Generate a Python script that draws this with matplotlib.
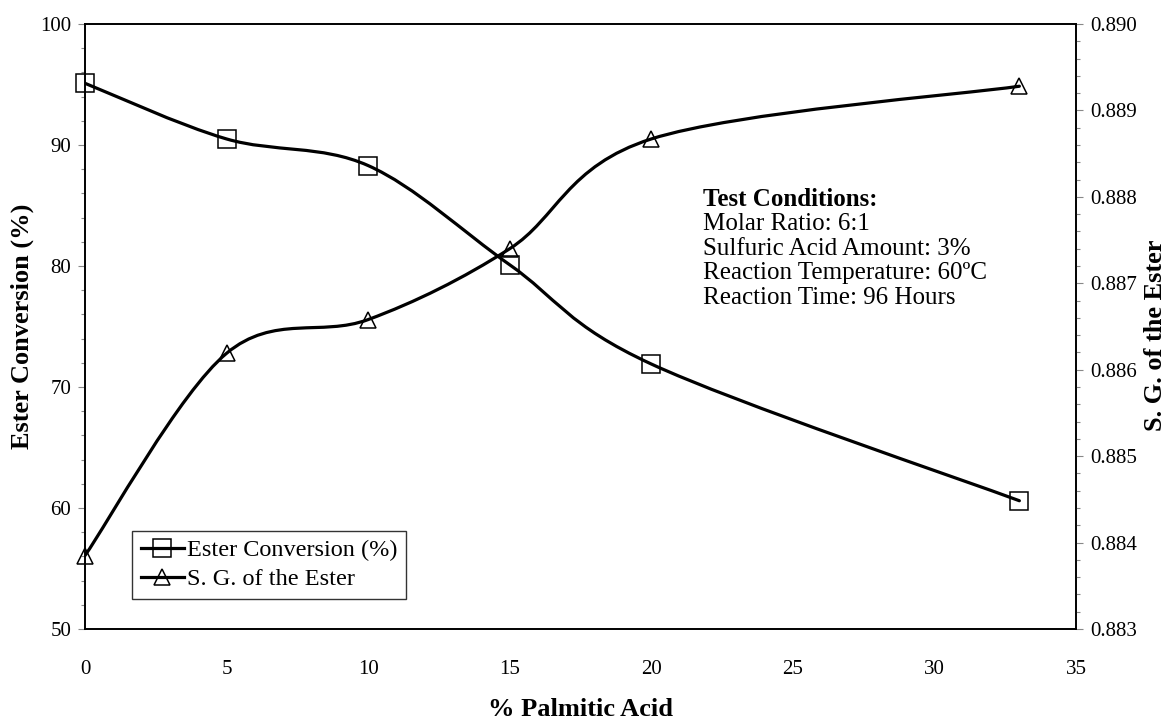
import matplotlib
matplotlib.use("Agg")
import matplotlib.pyplot as plt
from matplotlib.path import Path
from matplotlib.patches import PathPatch
from matplotlib.ticker import MultipleLocator, FormatStrFormatter
import numpy as np

plt.rcParams['font.family'] = ['Liberation Serif', 'DejaVu Serif']

palmitic = [0, 5, 10, 15, 20, 33]
ester_conversion = [95.1, 90.5, 88.3, 80.1, 71.9, 60.6]
specific_gravity = [0.88385, 0.88619, 0.88658, 0.88740, 0.88867, 0.88928]

conditions_title = "Test Conditions:"
conditions = ["Molar Ratio: 6:1",
              "Sulfuric Acid Amount: 3%",
              "Reaction Temperature: 60\u00baC",
              "Reaction Time: 96 Hours"]


def smooth_path(xs, ys):
    """Catmull-Rom style cubic Bezier through the points."""
    pts = np.column_stack([xs, ys]).astype(float)
    ext = np.vstack([pts[0], pts, pts[-1]])
    verts = [tuple(pts[0])]
    codes = [Path.MOVETO]
    for i in range(len(pts) - 1):
        p0, p1, p2, p3 = ext[i], ext[i + 1], ext[i + 2], ext[i + 3]
        c1 = p1 + (p2 - p0) / 6.0
        c2 = p2 - (p3 - p1) / 6.0
        verts += [tuple(c1), tuple(c2), tuple(p2)]
        codes += [Path.CURVE4] * 3
    return Path(verts, codes)


W, H = 1172, 726
fig = plt.figure(figsize=(W / 100, H / 100), dpi=100)
L, R, T, B = 85, 1076, 24, 629
ax = fig.add_axes([L / W, 1 - B / H, (R - L) / W, (B - T) / H])
ax2 = ax.twinx()

lw = 2.3
ax.add_patch(PathPatch(smooth_path(palmitic, ester_conversion), fill=False,
                       lw=lw, color='black', capstyle='round', zorder=3))
ax2.add_patch(PathPatch(smooth_path(palmitic, specific_gravity), fill=False,
                        lw=lw, color='black', capstyle='round', zorder=3))
ax.plot(palmitic, ester_conversion, ls='none', marker='s', ms=13,
        mfc='none', mec='black', mew=1.1, zorder=4, clip_on=False)
ax2.plot(palmitic, specific_gravity, ls='none', marker='^', ms=12,
         mfc='none', mec='black', mew=1.1, zorder=4, clip_on=False)

ax.set_xlim(0, 35)
ax.set_ylim(50, 100)
ax2.set_ylim(0.883, 0.890)

ax.xaxis.set_major_locator(MultipleLocator(5))
ax.yaxis.set_major_locator(MultipleLocator(10))
ax.yaxis.set_minor_locator(MultipleLocator(2))
ax2.yaxis.set_major_locator(MultipleLocator(0.001))
ax2.yaxis.set_minor_locator(MultipleLocator(0.0002))
ax2.yaxis.set_major_formatter(FormatStrFormatter('%.3f'))

fs = 15
ax.tick_params(axis='x', length=0, pad=22, labelsize=fs)
ax.tick_params(axis='y', which='major', direction='out', length=5, width=0.8,
               color='#888888', pad=5, labelsize=fs)
ax.tick_params(axis='y', which='minor', direction='out', length=3, width=0.8,
               color='#888888')
ax2.tick_params(axis='y', which='major', direction='out', length=5, width=0.8,
                color='#888888', pad=5, labelsize=fs)
ax2.tick_params(axis='y', which='minor', direction='out', length=3, width=0.8,
                color='#888888')

for a in (ax, ax2):
    for s in a.spines.values():
        s.set_linewidth(1.2)
        s.set_color('black')

lab_fs = 19
fig.text(22 / W, 1 - 326 / H, "Ester Conversion (%)", rotation=90,
         ha='center', va='center', fontsize=lab_fs, fontweight='bold')
fig.text(1155 / W, 1 - 335 / H, "S. G. of the Ester", rotation=90,
         ha='center', va='center', fontsize=lab_fs, fontweight='bold')
fig.text(580 / W, 1 - 710 / H, "% Palmitic Acid",
         ha='center', va='center', fontsize=lab_fs, fontweight='bold')

# Annotation block with the test conditions
tx, ty0, dy = 703, 200, 24.5
fig.text(tx / W, 1 - ty0 / H, conditions_title, ha='left', va='center',
         fontsize=18, fontweight='bold')
for i, line in enumerate(conditions):
    fig.text(tx / W, 1 - (ty0 + dy * (i + 1)) / H, line, ha='left',
             va='center', fontsize=18)

# Legend
h1, = ax.plot([], [], color='black', lw=lw, marker='s', ms=13, mfc='none',
              mec='black', mew=1.1)
h2, = ax.plot([], [], color='black', lw=lw, marker='^', ms=12, mfc='none',
              mec='black', mew=1.1)
leg = ax.legend([h1, h2], ["Ester Conversion (%)", "S. G. of the Ester"],
                loc='lower left',
                bbox_to_anchor=((132 - L) / (R - L), (B - 599) / (B - T)),
                fontsize=17.5, frameon=True, fancybox=False, shadow=False,
                handlelength=1.8, handletextpad=0.1, borderpad=0.35,
                labelspacing=0.3, borderaxespad=0)
leg.get_frame().set_edgecolor('black')
leg.get_frame().set_linewidth(1.0)
leg.set_zorder(5)

fig.savefig("out.png", dpi=100)
